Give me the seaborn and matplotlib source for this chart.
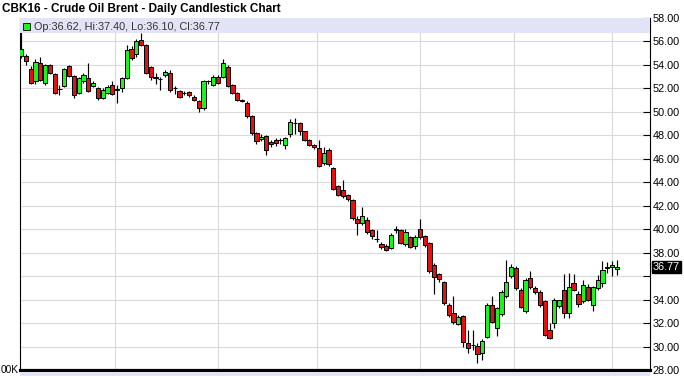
import matplotlib
matplotlib.use("Agg")
import matplotlib.pyplot as plt
from matplotlib.patches import Rectangle
from matplotlib.transforms import blended_transform_factory
import numpy as np
import seaborn as sns

# ---------------- data ----------------
title = "CBK16 - Crude Oil Brent - Daily Candlestick Chart"
legend_text = "Op:36.62, Hi:37.40, Lo:36.10, Cl:36.77"
last_close_label = "36.77"
last_close = 36.77
volume_label = "00K"

opens = [54.78, 54.78, 53.64, 52.59, 54.15, 52.45, 54.01, 53.21, 51.95, 52.22,
         53.87, 53.02, 51.60, 52.59, 52.87, 52.22, 52.02, 51.17, 51.60, 52.31,
         51.90, 52.00, 52.90, 55.40, 54.90, 56.10, 55.70, 53.80, 52.90, 52.80,
         53.16, 53.30, 52.00, 51.80, 51.60, 51.70, 51.30, 50.90, 50.30, 52.60,
         52.30, 53.00, 53.00, 53.80, 52.30, 51.60, 50.95, 50.74, 49.61, 48.19,
         47.65, 47.96, 47.40, 47.60, 47.60, 47.20, 48.10, 49.04, 49.04, 48.33,
         47.62, 47.20, 46.90, 45.64, 46.77, 45.22, 43.70, 43.30, 42.95, 42.50,
         40.85, 40.55, 40.80, 39.90, 39.15, 38.75, 38.60, 38.40, 39.90, 39.90,
         38.75, 39.30, 38.60, 40.00, 39.40, 38.80, 36.96, 36.20, 35.54, 33.56,
         32.84, 31.95, 32.60, 30.29, 30.10, 30.07, 29.45, 30.80, 33.56, 31.57,
         32.75, 34.27, 35.97, 36.68, 34.83, 33.07, 35.83, 34.97, 34.69, 33.84,
         31.40, 31.99, 33.47, 34.83, 32.90, 35.40, 34.50, 33.84, 35.10, 33.56,
         34.97, 35.40, 36.68, 36.75, 36.62]
highs = [56.99, 54.90, 53.87, 54.50, 54.70, 54.10, 54.10, 53.30, 52.30, 53.70,
         54.00, 53.10, 53.00, 53.30, 54.15, 52.60, 52.10, 52.00, 52.30, 52.60,
         52.30, 53.00, 55.70, 55.60, 56.20, 56.70, 55.80, 53.90, 53.30, 53.00,
         53.60, 53.60, 52.20, 51.90, 51.80, 51.80, 51.40, 51.00, 52.70, 52.70,
         53.10, 53.10, 54.50, 54.00, 52.40, 51.70, 51.10, 50.90, 49.70, 48.30,
         48.10, 48.00, 47.60, 47.80, 47.80, 47.90, 49.40, 49.45, 49.10, 48.40,
         47.70, 47.30, 47.60, 47.00, 46.90, 45.30, 43.80, 44.20, 43.00, 42.60,
         41.10, 41.90, 41.00, 40.00, 39.90, 38.90, 38.70, 39.70, 40.30, 40.00,
         40.00, 39.40, 39.50, 40.90, 39.50, 38.90, 37.10, 36.30, 35.60, 33.70,
         34.27, 32.70, 32.70, 31.42, 31.42, 30.30, 30.60, 33.70, 34.27, 33.40,
         34.80, 37.40, 37.00, 36.90, 35.00, 35.80, 36.40, 35.20, 34.80, 34.00,
         32.00, 34.10, 34.00, 36.20, 36.30, 36.20, 34.70, 35.70, 35.30, 35.20,
         36.11, 37.25, 37.20, 37.30, 37.40]
lows = [54.60, 54.00, 52.40, 52.40, 52.60, 52.30, 53.20, 51.50, 51.45, 52.10,
        53.00, 51.17, 51.50, 52.50, 51.70, 52.10, 51.00, 51.10, 51.50, 51.40,
        50.74, 51.70, 52.80, 54.40, 54.70, 55.60, 53.20, 52.70, 52.40, 51.90,
        53.00, 51.70, 51.50, 51.20, 51.40, 51.30, 50.90, 50.00, 50.20, 52.40,
        52.20, 52.40, 52.90, 52.10, 51.50, 50.90, 50.80, 49.50, 48.00, 47.30,
        47.50, 46.35, 47.00, 47.10, 47.30, 46.80, 47.90, 48.10, 48.00, 47.50,
        47.10, 46.80, 45.30, 45.50, 45.40, 43.30, 42.80, 42.70, 42.40, 40.80,
        39.50, 40.40, 39.60, 39.20, 38.90, 38.30, 38.10, 38.30, 39.70, 38.70,
        38.60, 38.40, 38.30, 39.20, 38.50, 36.30, 34.50, 35.50, 33.50, 32.50,
        31.90, 31.80, 30.00, 29.45, 29.70, 28.60, 28.88, 30.70, 32.00, 30.86,
        32.60, 34.10, 35.80, 34.80, 33.30, 32.90, 34.90, 34.50, 33.40, 30.90,
        30.60, 31.55, 33.30, 32.40, 32.40, 34.70, 33.40, 33.70, 33.90, 33.00,
        34.80, 35.10, 36.30, 36.00, 36.10]
closes = [55.35, 54.35, 52.45, 54.29, 52.73, 54.01, 53.30, 51.65, 51.97, 53.64,
          53.07, 51.45, 52.87, 53.16, 51.79, 52.45, 51.17, 51.88, 52.11, 51.54,
          51.92, 52.87, 55.30, 54.60, 56.00, 55.70, 53.30, 53.00, 52.92, 52.78,
          53.44, 51.90, 52.02, 51.30, 51.62, 51.45, 51.00, 50.30, 52.60, 52.62,
          53.00, 52.50, 54.20, 52.20, 51.60, 51.00, 50.97, 49.61, 48.19, 47.48,
          47.85, 46.72, 47.30, 47.35, 47.62, 47.76, 49.10, 49.06, 48.33, 47.62,
          47.20, 47.00, 45.40, 46.49, 45.56, 43.44, 42.95, 42.80, 42.60, 40.95,
          40.55, 41.10, 39.80, 39.45, 39.17, 38.52, 38.24, 39.50, 40.00, 38.80,
          39.80, 38.50, 39.30, 39.30, 38.65, 36.40, 35.95, 35.75, 33.70, 32.70,
          32.05, 32.50, 30.35, 29.87, 30.12, 29.40, 30.50, 33.56, 32.13, 33.27,
          34.69, 35.54, 36.75, 34.97, 33.41, 35.69, 35.07, 34.69, 33.56, 31.00,
          30.70, 33.98, 33.98, 32.84, 35.10, 34.83, 33.60, 35.26, 34.00, 35.10,
          35.69, 36.54, 36.82, 36.92, 36.77]

month_grid = [19.5, 41, 61.5, 83, 102.5, 123]
y_ticks = [28, 30, 32, 34, 36, 38, 40, 42, 44, 46, 48, 50, 52, 54, 56, 58]
hidden_tick = 36

# ---------------- style ----------------
sns.set_theme(style="white")
plt.rcParams['font.family'] = ['Liberation Sans', 'DejaVu Sans']

UP = '#1FF01F'
DOWN = '#E01212'
BAND = '#E3E3F7'
GRID = '#DADADA'

fig = plt.figure(figsize=(6.84, 3.76), dpi=100)
fig.patch.set_facecolor('white')
ax = fig.add_axes([20 / 684, 1 - 370 / 376, 630 / 684, 352 / 376])
ax.set_facecolor('white')

o = np.array(opens)
h = np.array(highs)
l = np.array(lows)
c = np.array(closes)
x = np.arange(len(o))

colors = [UP if cc > oo else (DOWN if cc < oo else 'black') for oo, cc in zip(o, c)]
bottom = np.minimum(o, c)
height = np.maximum(np.abs(c - o), 0.035)

ax.vlines(x, l, h, color='black', linewidth=0.85, zorder=2)
ax.bar(x, height, bottom=bottom, width=0.88, color=colors, edgecolor='black',
       linewidth=0.7, zorder=3)

ax.set_xlim(-0.21, 130.9)
ax.set_ylim(28, 58)

ax.set_xticks(month_grid)
ax.set_xticklabels([])
ax.set_yticks(y_ticks)
ax.set_yticklabels(["" if v == hidden_tick else f"{v:.2f}" for v in y_ticks])
ax.yaxis.tick_right()
ax.tick_params(axis='y', which='both', direction='in', length=5, width=0.8,
               color='black', pad=2, labelsize=7.8, labelcolor='black',
               right=True, left=False, labelright=True, labelleft=False)
ax.tick_params(axis='x', length=0)
ax.grid(True, color=GRID, linewidth=0.8, zorder=0)
ax.set_axisbelow(True)

sns.despine(ax=ax, top=True, right=False, left=False, bottom=False)
for side in ['left', 'right']:
    ax.spines[side].set_color('black')
    ax.spines[side].set_linewidth(0.8)
ax.spines['bottom'].set_color('black')
ax.spines['bottom'].set_linewidth(2.3)

# legend band
ax.add_patch(Rectangle((0, 1 - 15 / 352), 1, 15 / 352, transform=ax.transAxes,
                       facecolor=BAND, edgecolor='none', zorder=5, clip_on=False))
fig.patches.append(Rectangle((23 / 684, 1 - 30 / 376), 7 / 684, 7 / 376,
                             transform=fig.transFigure, facecolor=UP,
                             edgecolor='black', linewidth=0.6, zorder=6))
fig.text(34 / 684, 1 - 27 / 376, legend_text, fontsize=7.8, color='#333333',
         va='center', ha='left', zorder=7)

# title
fig.text(2 / 684, 1 - 9 / 376, title, fontsize=8.5, fontweight='bold',
         color='black', va='center', ha='left')

# last value box
trans = blended_transform_factory(ax.transAxes, ax.transData)
ax.text(1.0 + 3 / 630, last_close, last_close_label, transform=trans,
        fontsize=7.8, color='white', va='center', ha='left', zorder=8,
        bbox=dict(boxstyle='square,pad=0.12', facecolor='black', edgecolor='black'),
        clip_on=False)

# cut-off volume panel at the bottom
fig.patches.append(Rectangle((20 / 684, 0), 630 / 684, 4 / 376,
                             transform=fig.transFigure, facecolor=BAND,
                             edgecolor='none', zorder=1))
fig.text(0.5 / 684, 1 - 370 / 376, volume_label, fontsize=7.3, color='black',
         va='center', ha='left')

fig.savefig('out.png', dpi=100)
